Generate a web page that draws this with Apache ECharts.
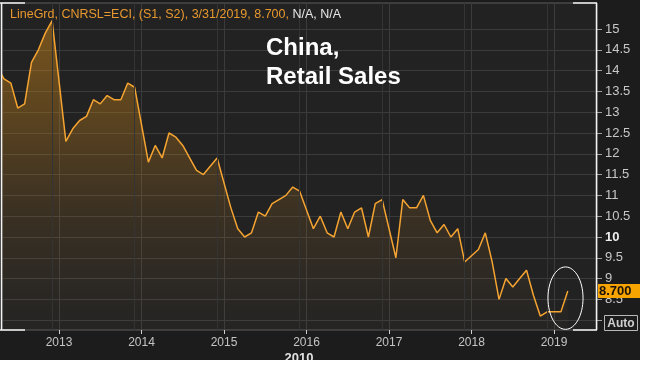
<!DOCTYPE html>
<html>
<head>
<meta charset="utf-8">
<script src="https://cdn.jsdelivr.net/npm/echarts@6/dist/echarts.min.js"></script>
<style>
html,body{margin:0;padding:0;background:#ffffff;}
#c{width:640px;height:360px;}
</style>
</head>
<body>
<div id="c"></div>
<script>
// ---- data ----
const firstYear = 2012, firstMonth = 4;          // first observation: Apr 2012
const retailSales = [
  // 2012 Apr–Dec
  14.1, 13.8, 13.7, 13.1, 13.2, 14.2, 14.5, 14.9, 15.2,
  // 2013 (Jan not reported)
  null, 12.3, 12.6, 12.8, 12.9, 13.3, 13.2, 13.4, 13.3, 13.3, 13.7, 13.6,
  // 2014
  null, 11.8, 12.2, 11.9, 12.5, 12.4, 12.2, 11.9, 11.6, 11.5, 11.7, 11.9,
  // 2015
  null, 10.7, 10.2, 10.0, 10.1, 10.6, 10.5, 10.8, 10.9, 11.0, 11.2, 11.1,
  // 2016
  null, 10.2, 10.5, 10.1, 10.0, 10.6, 10.2, 10.6, 10.7, 10.0, 10.8, 10.9,
  // 2017
  null, 9.5, 10.9, 10.7, 10.7, 11.0, 10.4, 10.1, 10.3, 10.0, 10.2, 9.4,
  // 2018
  null, 9.7, 10.1, 9.4, 8.5, 9.0, 8.8, 9.0, 9.2, 8.6, 8.1, 8.2,
  // 2019
  null, 8.2, 8.7
];
const yearTicks = [2013, 2014, 2015, 2016, 2017, 2018, 2019];
const yTickValues = [8, 8.5, 9, 9.5, 10, 10.5, 11, 11.5, 12, 12.5, 13, 13.5, 14, 14.5, 15];
const lastDateLabel = '3/31/2019';
const headerPrefix = 'LineGrd, CNRSL=ECI, (S1, S2)';
const titleLines = ['China,', 'Retail Sales'];
const footerYear = '2010';
const baseYear = 2012;

// month index relative to Jan of baseYear
const monthIdx = (y, m) => (y - baseYear) * 12 + (m - 1);
const startIdx = monthIdx(firstYear, firstMonth);
const seriesData = retailSales.map((v, i) => [startIdx + i, v]);
const yearTickIdx = yearTicks.map(y => monthIdx(y, 1));
const decIdx = yearTicks.map(y => monthIdx(y, 1) - 1);
let lastPoint = null;
for (let i = seriesData.length - 1; i >= 0; i--) { if (seriesData[i][1] != null) { lastPoint = seriesData[i]; break; } }

// ---- layout / style ----
const G = {left: 2, top: 3, right: 43, bottom: 30};
const W = 640, H = 360;
const orange = '#f5a431';

const chart = echarts.init(document.getElementById('c'), null, {renderer: 'canvas'});

const option = {
  backgroundColor: '#1c1c1c',
  animation: false,
  grid: {
    left: G.left, top: G.top, right: G.right, bottom: G.bottom,
    show: true, backgroundColor: '#222222', borderColor: '#5c5c5c', borderWidth: 1
  },
  xAxis: {
    type: 'value',
    min: 3.71, max: 90.25,
    minInterval: 12, maxInterval: 12, splitNumber: 7,
    axisLine: {show: false},
    axisTick: {show: true, length: 4, lineStyle: {color: '#cfcfcf'}, customValues: yearTickIdx},
    axisLabel: {
      customValues: yearTickIdx,
      color: '#c4c4c4', fontSize: 12, fontFamily: 'Liberation Sans', margin: 7,
      formatter: v => (Math.abs(v % 12) < 1e-6 ? String(baseYear + Math.round(v / 12)) : '')
    },
    splitLine: {show: true, lineStyle: {color: '#3b3b3b', width: 1}}
  },
  yAxis: {
    type: 'value',
    position: 'right',
    min: 7.764, max: 15.625,
    minInterval: 0.5, maxInterval: 0.5, splitNumber: 16,
    axisLine: {show: false},
    axisTick: {show: true, length: 5, lineStyle: {color: '#a0a0a0'}, customValues: yTickValues},
    axisLabel: {
      customValues: yTickValues.filter(v => v > 8.1),
      color: '#c8c8c8', fontSize: 13, fontFamily: 'Liberation Sans', margin: 8,
      formatter: v => {
        if (Math.abs(v * 2 - Math.round(v * 2)) > 1e-6 || v < 8.25) return '';
        if (Math.abs(v - 10) < 1e-6) return '{b|10}';
        return String(v);
      },
      rich: {b: {fontWeight: 'bold', color: '#eeeeee', fontSize: 13, fontFamily: 'Liberation Sans'}}
    },
    splitLine: {show: true, lineStyle: {color: '#3b3b3b', width: 1}}
  },
  series: [
    {
      type: 'line',
      z: 1,
      data: [],
      silent: true,
      markLine: {
        silent: true, symbol: 'none', animation: false,
        label: {show: false},
        lineStyle: {color: '#343434', width: 1, type: 'solid'},
        data: decIdx.map(x => ({xAxis: x}))
      }
    },
    {
      type: 'line',
      z: 3,
      data: seriesData,
      connectNulls: true,
      showSymbol: false,
      lineStyle: {color: orange, width: 1.5},
      areaStyle: {
        origin: 'start',
        color: new echarts.graphic.LinearGradient(0, 0, 0, 1, [
          {offset: 0, color: 'rgba(215,140,25,0.68)'},
          {offset: 0.3, color: 'rgba(215,140,25,0.45)'},
          {offset: 0.6, color: 'rgba(205,135,35,0.22)'},
          {offset: 0.9, color: 'rgba(185,130,60,0.07)'},
          {offset: 1, color: 'rgba(180,130,60,0.03)'}
        ])
      }
    }
  ]
};
chart.setOption(option);

// ---- overlays ----
const px = (x, y) => chart.convertToPixel({gridIndex: 0}, [x, y]);
const gx0 = G.left, gx1 = W - G.right, gy0 = G.top, gy1 = H - G.bottom;
const lastPx = px(lastPoint[0], lastPoint[1]);
const ellC = px(lastPoint[0] - 0.33, lastPoint[1] - 0.17);
const ellE = px(lastPoint[0] - 0.33 + 2.55, lastPoint[1] - 0.17 + 0.75);
const white = '#f4f4f4';
const wl = (x1, y1, x2, y2) => ({type: 'line', z: 50, silent: true,
  shape: {x1, y1, x2, y2}, style: {stroke: white, lineWidth: 1.5}});

chart.setOption({
  graphic: [
    // header
    {type: 'text', left: 10, top: 8, z: 60, silent: true,
      style: {
        text: '{o|' + headerPrefix + ', ' + lastDateLabel + ', ' + lastPoint[1].toFixed(3) + ', }{w|N/A, N/A}',
        rich: {
          o: {fill: '#e8982e', fontSize: 12.5, fontFamily: 'Liberation Sans'},
          w: {fill: '#e6e6e6', fontSize: 12.5, fontFamily: 'Liberation Sans'}
        }
      }},
    // title
    {type: 'text', x: 266, y: 48.5, z: 60, silent: true,
      style: {text: titleLines[0], fill: '#ffffff', font: 'bold 24px "Liberation Sans", Arial, sans-serif', verticalAlign: 'middle'}},
    {type: 'text', x: 266, y: 77, z: 60, silent: true,
      style: {text: titleLines[1], fill: '#ffffff', font: 'bold 24px "Liberation Sans", Arial, sans-serif', verticalAlign: 'middle'}},
    // border brackets
    wl(gx0 - 0.5, gy0, gx0 - 0.5, gy1),
    wl(gx1 - 0.5, gy0, gx1 - 0.5, gy1),
    wl(0, gy0, 25, gy0),
    wl(0, gy1, 25, gy1),
    wl(gx1 - 24, gy0, gx1, gy0),
    wl(gx1 - 24, gy1, gx1, gy1),
    // value box
    {type: 'rect', z: 70, silent: true,
      shape: {x: gx1 + 1, y: lastPx[1] - 7, width: W - gx1 - 1, height: 14},
      style: {fill: '#f7a300'}},
    {type: 'text', x: gx1 + 2, y: lastPx[1] + 0.5, z: 71, silent: true,
      style: {text: lastPoint[1].toFixed(3), fill: '#1a1208', font: 'bold 13px "Liberation Sans", Arial, sans-serif', verticalAlign: 'middle'}},
    // Auto box
    {type: 'rect', z: 70, silent: true,
      shape: {x: 604.5, y: 315.5, width: 33, height: 15},
      style: {fill: '#1c1c1c', stroke: '#b8b8b8', lineWidth: 1}},
    {type: 'text', x: 621, y: 323.5, z: 71, silent: true,
      style: {text: 'Auto', fill: '#d0d0d0', font: 'bold 12px "Liberation Sans", Arial, sans-serif', align: 'center', verticalAlign: 'middle'}},
    // bottom year marker
    {type: 'text', x: 299, y: 352, z: 60, silent: true,
      style: {text: footerYear, fill: '#e0e0e0', font: 'bold 13px "Liberation Sans", Arial, sans-serif', align: 'center', verticalAlign: 'top'}},
    // annotation ellipse
    {type: 'ellipse', z: 65, silent: true,
      shape: {cx: ellC[0], cy: ellC[1], rx: Math.abs(ellE[0] - ellC[0]), ry: Math.abs(ellE[1] - ellC[1])},
      style: {fill: null, stroke: '#ffffff', lineWidth: 1}}
  ]
});
</script>
</body>
</html>
